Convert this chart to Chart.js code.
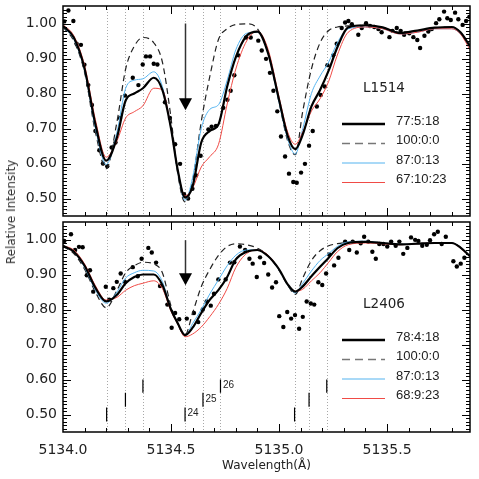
<!DOCTYPE html>
<html>
<head>
<meta charset="utf-8">
<script src="https://cdn.jsdelivr.net/npm/chart.js@4.4.1/dist/chart.umd.min.js"></script>
<style>
  body { margin: 0; background: #fff; }
  #wrap { position: relative; width: 479px; height: 479px; overflow: hidden; background: #fff; }
  canvas { position: absolute; left: 0; }
  #topChart { top: 0; }
  #botChart { top: 218px; }
  #ylabel {
    position: absolute; left: 11px; top: 212px;
    transform: translate(-50%, -50%) rotate(-90deg);
    font: 12px "DejaVu Sans"; color: #333; white-space: nowrap;
  }
</style>
</head>
<body>
<div id="wrap">
  <canvas id="topChart" width="479" height="220"></canvas>
  <canvas id="botChart" width="479" height="261"></canvas>
  <div id="ylabel">Relative Intensity</div>
</div>
<script>
// wavelength grid of the synthetic spectra
const modelWave = [5134.000, 5134.050, 5134.100, 5134.150, 5134.200, 5134.250, 5134.290, 5134.330, 5134.370, 5134.420,
  5134.460, 5134.500, 5134.530, 5134.565, 5134.600, 5134.640, 5134.680, 5134.720, 5134.760, 5134.800,
  5134.850, 5134.900, 5134.950, 5135.000, 5135.040, 5135.075, 5135.110, 5135.150, 5135.190, 5135.230,
  5135.270, 5135.320, 5135.400, 5135.480, 5135.560, 5135.640, 5135.720, 5135.800, 5135.840, 5135.884];

// L1514 synthetic spectra
const topBest = [0.993, 0.960, 0.871, 0.712, 0.608, 0.675, 0.780, 0.800, 0.815, 0.845,
  0.810, 0.700, 0.585, 0.503, 0.535, 0.660, 0.693, 0.712, 0.820, 0.904,
  0.965, 0.977, 0.914, 0.782, 0.679, 0.641, 0.683, 0.763, 0.810, 0.866,
  0.932, 0.989, 0.995, 0.989, 0.973, 0.980, 0.988, 0.990, 0.975, 0.935];
const topPure = [0.990, 0.950, 0.860, 0.690, 0.585, 0.720, 0.870, 0.935, 0.960, 0.945,
  0.890, 0.730, 0.575, 0.490, 0.550, 0.720, 0.850, 0.955, 0.985, 0.997,
  0.999, 0.985, 0.915, 0.775, 0.665, 0.625, 0.750, 0.870, 0.945, 0.980,
  0.990, 0.993, 0.995, 0.988, 0.975, 0.978, 0.988, 0.990, 0.975, 0.935];
const topNo25 = [0.990, 0.955, 0.865, 0.700, 0.597, 0.690, 0.815, 0.838, 0.842, 0.862,
  0.820, 0.700, 0.580, 0.495, 0.560, 0.700, 0.755, 0.768, 0.838, 0.925,
  0.972, 0.975, 0.912, 0.775, 0.670, 0.627, 0.700, 0.800, 0.850, 0.890,
  0.945, 0.985, 0.990, 0.985, 0.970, 0.975, 0.985, 0.985, 0.970, 0.930];
const topRich = [0.997, 0.965, 0.880, 0.725, 0.618, 0.665, 0.730, 0.748, 0.765, 0.815,
  0.810, 0.700, 0.585, 0.507, 0.530, 0.590, 0.620, 0.655, 0.770, 0.870,
  0.950, 0.978, 0.925, 0.790, 0.690, 0.655, 0.690, 0.750, 0.785, 0.835,
  0.910, 0.975, 0.990, 0.985, 0.970, 0.975, 0.985, 0.985, 0.970, 0.925];

// L2406 synthetic spectra
const botBest = [0.982, 0.965, 0.925, 0.862, 0.823, 0.842, 0.875, 0.893, 0.900, 0.900,
  0.870, 0.800, 0.762, 0.727, 0.748, 0.790, 0.828, 0.856, 0.893, 0.943,
  0.965, 0.970, 0.952, 0.915, 0.872, 0.851, 0.866, 0.895, 0.922, 0.948,
  0.975, 0.990, 0.993, 0.990, 0.986, 0.988, 0.990, 0.990, 0.977, 0.952];
const botPure = [0.980, 0.960, 0.915, 0.850, 0.805, 0.855, 0.905, 0.925, 0.935, 0.930,
  0.905, 0.810, 0.760, 0.727, 0.790, 0.865, 0.915, 0.955, 0.980, 0.988,
  0.985, 0.975, 0.953, 0.912, 0.870, 0.843, 0.890, 0.940, 0.968, 0.982,
  0.988, 0.992, 0.995, 0.990, 0.986, 0.988, 0.990, 0.990, 0.977, 0.952];
const botNo25 = [0.980, 0.965, 0.920, 0.855, 0.818, 0.850, 0.890, 0.905, 0.912, 0.910,
  0.880, 0.800, 0.762, 0.725, 0.760, 0.800, 0.845, 0.885, 0.925, 0.955,
  0.970, 0.970, 0.952, 0.913, 0.870, 0.847, 0.875, 0.910, 0.940, 0.960,
  0.980, 0.993, 0.995, 0.990, 0.986, 0.988, 0.990, 0.990, 0.977, 0.950];
const botRich = [0.982, 0.970, 0.930, 0.868, 0.827, 0.835, 0.855, 0.868, 0.875, 0.882,
  0.860, 0.795, 0.760, 0.722, 0.730, 0.750, 0.780, 0.815, 0.860, 0.920,
  0.960, 0.970, 0.955, 0.915, 0.872, 0.852, 0.858, 0.882, 0.905, 0.935,
  0.965, 0.985, 0.990, 0.988, 0.985, 0.988, 0.990, 0.990, 0.975, 0.950];

// observed spectra
const topObsWave = [5134.006, 5134.025, 5134.048, 5134.063, 5134.083, 5134.099, 5134.117, 5134.134, 5134.150, 5134.168,
  5134.185, 5134.205, 5134.225, 5134.243, 5134.264, 5134.287, 5134.323, 5134.349, 5134.369, 5134.384,
  5134.403, 5134.420, 5134.437, 5134.472, 5134.495, 5134.519, 5134.542, 5134.560, 5134.579, 5134.599,
  5134.616, 5134.637, 5134.673, 5134.688, 5134.708, 5134.742, 5134.761, 5134.776, 5134.793, 5134.812,
  5134.847, 5134.869, 5134.904, 5134.920, 5134.940, 5134.958, 5134.974, 5134.992, 5135.009, 5135.028,
  5135.046, 5135.066, 5135.082, 5135.102, 5135.120, 5135.139, 5135.156, 5135.175, 5135.193, 5135.212,
  5135.224, 5135.251, 5135.267, 5135.290, 5135.306, 5135.321, 5135.337, 5135.367, 5135.383, 5135.403,
  5135.421, 5135.441, 5135.460, 5135.475, 5135.511, 5135.525, 5135.545, 5135.563, 5135.579, 5135.603,
  5135.622, 5135.640, 5135.653, 5135.673, 5135.691, 5135.707, 5135.727, 5135.742, 5135.764, 5135.779,
  5135.795, 5135.815, 5135.830, 5135.850, 5135.866, 5135.881];
const topObsFlux = [1.006, 1.037, 1.007, 0.942, 0.939, 0.882, 0.824, 0.767, 0.693, 0.638,
  0.600, 0.592, 0.646, 0.660, 0.730, 0.794, 0.845, 0.824, 0.883, 0.906,
  0.906, 0.885, 0.883, 0.775, 0.730, 0.655, 0.599, 0.512, 0.500, 0.528,
  0.566, 0.622, 0.697, 0.705, 0.707, 0.759, 0.782, 0.808, 0.852, 0.909,
  0.960, 0.960, 0.951, 0.923, 0.899, 0.859, 0.808, 0.749, 0.677, 0.620,
  0.571, 0.547, 0.545, 0.574, 0.599, 0.651, 0.693, 0.763, 0.796, 0.820,
  0.881, 0.909, 0.942, 0.987, 1.003, 1.007, 0.998, 0.968, 0.987, 1.001,
  0.993, 0.990, 0.984, 0.975, 0.961, 0.979, 0.987, 0.979, 0.968, 0.972,
  0.961, 0.953, 0.930, 0.965, 0.977, 0.984, 1.001, 1.012, 1.034, 1.015,
  1.010, 1.031, 1.012, 0.996, 1.007, 1.019];

const botObsWave = [5134.006, 5134.037, 5134.056, 5134.074, 5134.091, 5134.110, 5134.125, 5134.140, 5134.198, 5134.214,
  5134.233, 5134.249, 5134.267, 5134.287, 5134.323, 5134.346, 5134.364, 5134.395, 5134.411, 5134.431,
  5134.449, 5134.483, 5134.503, 5134.519, 5134.538, 5134.573, 5134.606, 5134.626, 5134.647, 5134.665,
  5134.684, 5134.699, 5134.719, 5134.753, 5134.773, 5134.793, 5134.819, 5134.843, 5134.863, 5134.878,
  5134.897, 5134.912, 5134.931, 5134.950, 5134.968, 5134.986, 5135.001, 5135.020, 5135.038, 5135.056,
  5135.074, 5135.093, 5135.110, 5135.128, 5135.147, 5135.163, 5135.182, 5135.200, 5135.218, 5135.233,
  5135.255, 5135.275, 5135.306, 5135.325, 5135.341, 5135.360, 5135.378, 5135.394, 5135.413, 5135.432,
  5135.448, 5135.464, 5135.483, 5135.501, 5135.519, 5135.540, 5135.557, 5135.575, 5135.594, 5135.611,
  5135.630, 5135.645, 5135.663, 5135.684, 5135.699, 5135.718, 5135.735, 5135.753, 5135.772, 5135.807,
  5135.823, 5135.841, 5135.858, 5135.876];
const botObsFlux = [0.996, 1.015, 0.970, 0.979, 0.978, 0.898, 0.912, 0.851, 0.865, 0.828,
  0.861, 0.879, 0.903, 0.879, 0.921, 0.895, 0.945, 0.976, 0.963, 0.934,
  0.867, 0.814, 0.748, 0.790, 0.772, 0.774, 0.790, 0.764, 0.800, 0.823,
  0.811, 0.845, 0.886, 0.886, 0.934, 0.935, 0.980, 0.970, 0.945, 0.931,
  0.893, 0.949, 0.933, 0.900, 0.863, 0.878, 0.781, 0.750, 0.793, 0.774,
  0.784, 0.745, 0.779, 0.823, 0.817, 0.814, 0.878, 0.870, 0.903, 0.957,
  0.926, 0.948, 0.994, 0.970, 0.994, 0.963, 0.989, 1.008, 0.994, 0.965,
  0.945, 0.987, 0.987, 0.980, 0.994, 0.982, 0.994, 0.959, 0.976, 1.006,
  0.999, 0.996, 0.982, 0.985, 0.998, 1.015, 1.022, 0.987, 1.008, 0.938,
  0.923, 0.931, 0.948];

// MgH isotopic components (dotted lines and marks)
const compWave = [5134.202, 5134.289, 5134.370, 5134.565, 5134.648, 5134.729, 5135.072, 5135.139, 5135.221];
const compMass = [24, 25, 26, 24, 25, 26, 24, 25, 26];
const markLow = { 24: 0.480, 25: 0.522, 26: 0.562 };
const markHigh = { 24: 0.520, 25: 0.562, 26: 0.600 };
const labelledComps = [3, 4, 5];

// axes
const waveMin = 5134.0, waveMax = 5135.884;
const fluxMin = 0.45, fluxMax = 1.05;
const xTickVals = [5134.0, 5134.5, 5135.0, 5135.5];
const xTickLabels = ['5134.0', '5134.5', '5135.0', '5135.5'];
const yTickVals = [0.5, 0.6, 0.7, 0.8, 0.9, 1.0];
const yTickLabels = ['0.50', '0.60', '0.70', '0.80', '0.90', '1.00'];

const topLegend = ['77:5:18', '100:0:0', '87:0:13', '67:10:23'];
const botLegend = ['78:4:18', '100:0:0', '87:0:13', '68:9:23'];

const BLUE = 'rgb(85,180,240)';
const RED = 'rgb(240,75,70)';

function curve(vals, color, width, dash, order) {
  return {
    data: modelWave.map((w, i) => ({ x: w, y: vals[i] })),
    showLine: true, pointRadius: 0, borderColor: color, borderWidth: width,
    borderDash: dash, cubicInterpolationMode: 'monotone', fill: false, order: order
  };
}

function dots(waves, flux) {
  return {
    data: waves.map((w, i) => ({ x: w, y: flux[i] })),
    showLine: false, pointRadius: 2.2, pointBackgroundColor: '#000',
    pointBorderWidth: 0, order: 5
  };
}

function drawDecor(chart, o) {
  const ctx = chart.ctx, a = chart.chartArea;
  const x = chart.scales.x, y = chart.scales.y;
  ctx.save();

  // frame
  ctx.strokeStyle = '#000';
  ctx.lineWidth = 1.5;
  ctx.strokeRect(a.left, a.top, a.right - a.left, a.bottom - a.top);

  // inward ticks
  ctx.lineWidth = 1;
  ctx.beginPath();
  for (let i = 1; i < 60; i++) {
    const v = fluxMin + i * 0.01;
    const major = i % 10 === 5;
    const len = major ? 8 : 4;
    const py = Math.round(y.getPixelForValue(v)) + 0.5;
    ctx.moveTo(a.left, py); ctx.lineTo(a.left + len, py);
    ctx.moveTo(a.right, py); ctx.lineTo(a.right - len, py);
  }
  for (let i = 1; i <= 18; i++) {
    const v = waveMin + i * 0.1;
    const len = i % 5 === 0 ? 8 : 4;
    const px = Math.round(x.getPixelForValue(v)) + 0.5;
    ctx.moveTo(px, a.bottom); ctx.lineTo(px, a.bottom - len);
    ctx.moveTo(px, a.top); ctx.lineTo(px, a.top + len);
  }
  ctx.stroke();

  // y tick labels
  ctx.fillStyle = '#222';
  ctx.font = '14px "DejaVu Sans"';
  ctx.textAlign = 'right';
  ctx.textBaseline = 'middle';
  yTickVals.forEach((v, i) => ctx.fillText(yTickLabels[i], a.left - 6, y.getPixelForValue(v)));

  if (o.xLabels) {
    ctx.textAlign = 'center';
    ctx.textBaseline = 'top';
    xTickVals.forEach((v, i) => ctx.fillText(xTickLabels[i], x.getPixelForValue(v), a.bottom + 11));
    ctx.font = '12px "DejaVu Sans"';
    ctx.textBaseline = 'alphabetic';
    ctx.fillText('Wavelength(\u00C5)', (a.left + a.right) / 2, a.bottom + 37);
  }

  // arrow
  const ax = Math.round(x.getPixelForValue(o.arrow.x)) + 0.5;
  const y0 = y.getPixelForValue(o.arrow.from), y1 = y.getPixelForValue(o.arrow.to);
  ctx.strokeStyle = '#333';
  ctx.lineWidth = 1.5;
  ctx.beginPath(); ctx.moveTo(ax, y0); ctx.lineTo(ax, y1 - 10); ctx.stroke();
  ctx.fillStyle = '#000';
  ctx.beginPath(); ctx.moveTo(ax - 6.5, y1 - 12); ctx.lineTo(ax + 6.5, y1 - 12); ctx.lineTo(ax, y1); ctx.closePath(); ctx.fill();

  // star name
  ctx.fillStyle = '#222';
  ctx.font = '13.5px "DejaVu Sans"';
  ctx.textAlign = 'center';
  ctx.textBaseline = 'middle';
  ctx.fillText(o.name, 384, a.top + 82);

  // legend
  const rows = [118, 137.5, 157, 176.5];
  const styles = [
    { c: '#000', w: 2.5, d: [] },
    { c: '#777', w: 1.3, d: [8, 5] },
    { c: BLUE, w: 1.2, d: [] },
    { c: RED, w: 1.2, d: [] }
  ];
  ctx.font = '13px "Liberation Sans"';
  ctx.textAlign = 'left';
  rows.forEach((dy, i) => {
    const ly = a.top + dy;
    ctx.strokeStyle = styles[i].c;
    ctx.lineWidth = styles[i].w;
    ctx.setLineDash(styles[i].d);
    ctx.beginPath(); ctx.moveTo(342, ly); ctx.lineTo(385, ly); ctx.stroke();
    ctx.setLineDash([]);
    ctx.fillStyle = '#222';
    ctx.fillText(o.legend[i], 396, ly - 3);
  });

  // isotope labels
  if (o.isoLabels) {
    ctx.font = '10px "Liberation Sans"';
    ctx.textBaseline = 'middle';
    labelledComps.forEach(k => {
      const m = compMass[k];
      ctx.fillText(String(m), x.getPixelForValue(compWave[k]) + 2.5, y.getPixelForValue(markHigh[m]) + 6);
    });
  }
  ctx.restore();
}

function dottedLines(chart) {
  const ctx = chart.ctx, a = chart.chartArea, x = chart.scales.x;
  ctx.save();
  ctx.strokeStyle = '#a8a8a8';
  ctx.lineWidth = 1;
  ctx.setLineDash([1, 2]);
  compWave.forEach(w => {
    const px = Math.round(x.getPixelForValue(w)) + 0.5;
    ctx.beginPath(); ctx.moveTo(px, a.top); ctx.lineTo(px, a.bottom); ctx.stroke();
  });
  ctx.restore();
}

function makeChart(id, datasets, pad, decor) {
  return new Chart(document.getElementById(id), {
    type: 'scatter',
    data: { datasets: datasets },
    options: {
      responsive: false,
      animation: false,
      layout: { padding: pad },
      plugins: { legend: { display: false }, tooltip: { enabled: false } },
      scales: {
        x: { type: 'linear', display: false, min: waveMin, max: waveMax },
        y: { type: 'linear', display: false, min: fluxMin, max: fluxMax }
      }
    },
    plugins: [{
      id: 'decor',
      beforeDatasetsDraw: dottedLines,
      afterDatasetsDraw: chart => drawDecor(chart, decor)
    }]
  });
}

// isotope marks as short line segments
const markData = [];
compWave.forEach((w, i) => {
  const m = compMass[i];
  markData.push({ x: w, y: markLow[m] }, { x: w, y: markHigh[m] }, { x: w, y: null });
});

makeChart('topChart', [
  curve(topBest, '#000', 2.2, [], 0),
  curve(topRich, RED, 1, [], 1),
  curve(topNo25, BLUE, 1, [], 2),
  curve(topPure, '#222', 1.2, [6, 4], 3),
  dots(topObsWave, topObsFlux)
], { left: 63, right: 9, top: 6, bottom: 1 },
  { name: 'L1514', legend: topLegend, arrow: { x: 5134.565, from: 1.0, to: 0.752 }, xLabels: false, isoLabels: false });

makeChart('botChart', [
  curve(botBest, '#000', 2.2, [], 0),
  curve(botRich, RED, 1, [], 1),
  curve(botNo25, BLUE, 1, [], 2),
  curve(botPure, '#222', 1.2, [6, 4], 3),
  dots(botObsWave, botObsFlux),
  { data: markData, showLine: true, spanGaps: false, pointRadius: 0, borderColor: '#000', borderWidth: 1.2, order: 6 }
], { left: 63, right: 9, top: 1, bottom: 47 },
  { name: 'L2406', legend: botLegend, arrow: { x: 5134.565, from: 0.998, to: 0.869 }, xLabels: true, isoLabels: true });
</script>
</body>
</html>
